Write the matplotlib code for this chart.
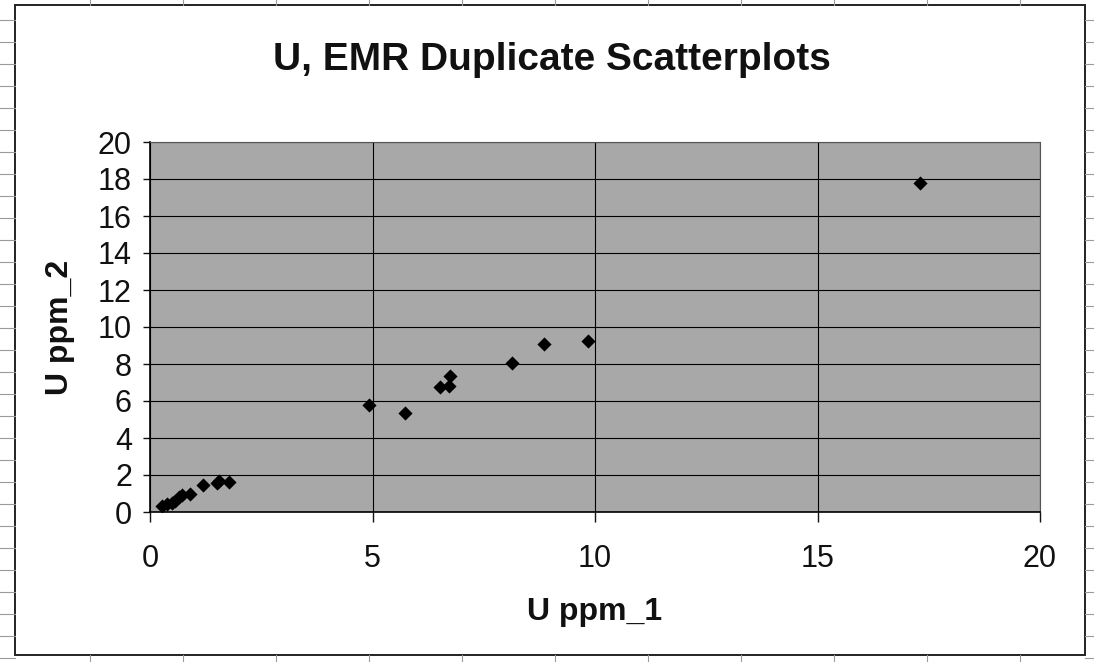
import matplotlib
matplotlib.use("Agg")
import matplotlib.pyplot as plt
from matplotlib.patches import Rectangle

# duplicate pairs
u_ppm_1 = [0.27, 0.38, 0.49, 0.56, 0.65, 0.72, 0.90, 1.19, 1.51, 1.55, 1.78,
           4.92, 5.73, 6.52, 6.72, 6.74, 8.13, 8.85, 9.84, 17.3]
u_ppm_2 = [0.32, 0.43, 0.49, 0.59, 0.81, 0.92, 0.97, 1.46, 1.57, 1.68, 1.62,
           5.78, 5.35, 6.76, 6.81, 7.35, 8.05, 9.08, 9.24, 17.78]

x_ticks = [0, 5, 10, 15, 20]
y_ticks = [0, 2, 4, 6, 8, 10, 12, 14, 16, 18, 20]

TITLE = "U, EMR Duplicate Scatterplots"
X_LABEL = "U ppm_1"
Y_LABEL = "U ppm_2"

PLOT_BG = "#a8a8a8"
TEXT = "#111111"

plt.rcParams.update({"font.family": ["Liberation Sans", "DejaVu Sans"]})

W, H = 1094, 662
fig = plt.figure(figsize=(W / 100, H / 100), dpi=100)

# faint spreadsheet cells around the chart object
for yy in range(20, H, 22):
    fig.add_artist(plt.Line2D([0, 15 / W], [1 - yy / H] * 2, color="#9a9a9a", lw=0.8))
    fig.add_artist(plt.Line2D([1085 / W, 1], [1 - yy / H] * 2, color="#9a9a9a", lw=0.8))
for xx in range(90, W, 93):
    fig.add_artist(plt.Line2D([xx / W] * 2, [1 - 5 / H, 1], color="#9a9a9a", lw=0.8))
    fig.add_artist(plt.Line2D([xx / W] * 2, [0, 1 - 655 / H], color="#9a9a9a", lw=0.8))

# chart object border
fig.add_artist(Rectangle((15 / W, 1 - 655 / H), 1070 / W, 650 / H, transform=fig.transFigure,
                         facecolor="white", edgecolor="#222222", lw=1.4, zorder=0))

ax = fig.add_axes([150 / W, 1 - 512 / H, 890 / W, 370 / H])
ax.set_facecolor(PLOT_BG)
ax.scatter(u_ppm_1, u_ppm_2, marker="D", s=52, color="black", zorder=3, linewidths=0)

ax.set_xlim(0, 20)
ax.set_ylim(0, 20)
ax.set_xticks(x_ticks)
ax.set_yticks(y_ticks)
ax.grid(True, color="black", linewidth=0.8)
ax.set_axisbelow(True)
ax.tick_params(axis="both", labelsize=22, colors=TEXT, width=1, direction="out")
ax.tick_params(axis="x", length=7, pad=16)
ax.tick_params(axis="y", length=5, pad=8)
for side in ("top", "right"):
    ax.spines[side].set_color("#555555")
    ax.spines[side].set_linewidth(0.8)
for side in ("bottom", "left"):
    ax.spines[side].set_color("black")
    ax.spines[side].set_linewidth(1.2)

fig.text(595 / W, 1 - 612 / H, X_LABEL, ha="center", va="center", fontsize=23,
         fontweight="bold", color=TEXT)
fig.text(60 / W, 1 - 327 / H, Y_LABEL, ha="center", va="center", rotation=90,
         fontsize=23, fontweight="bold", color=TEXT)
fig.text(552 / W, 1 - 60 / H, TITLE, ha="center", va="center", fontsize=28,
         fontweight="bold", color=TEXT)

fig.savefig("out.png", dpi=100)
